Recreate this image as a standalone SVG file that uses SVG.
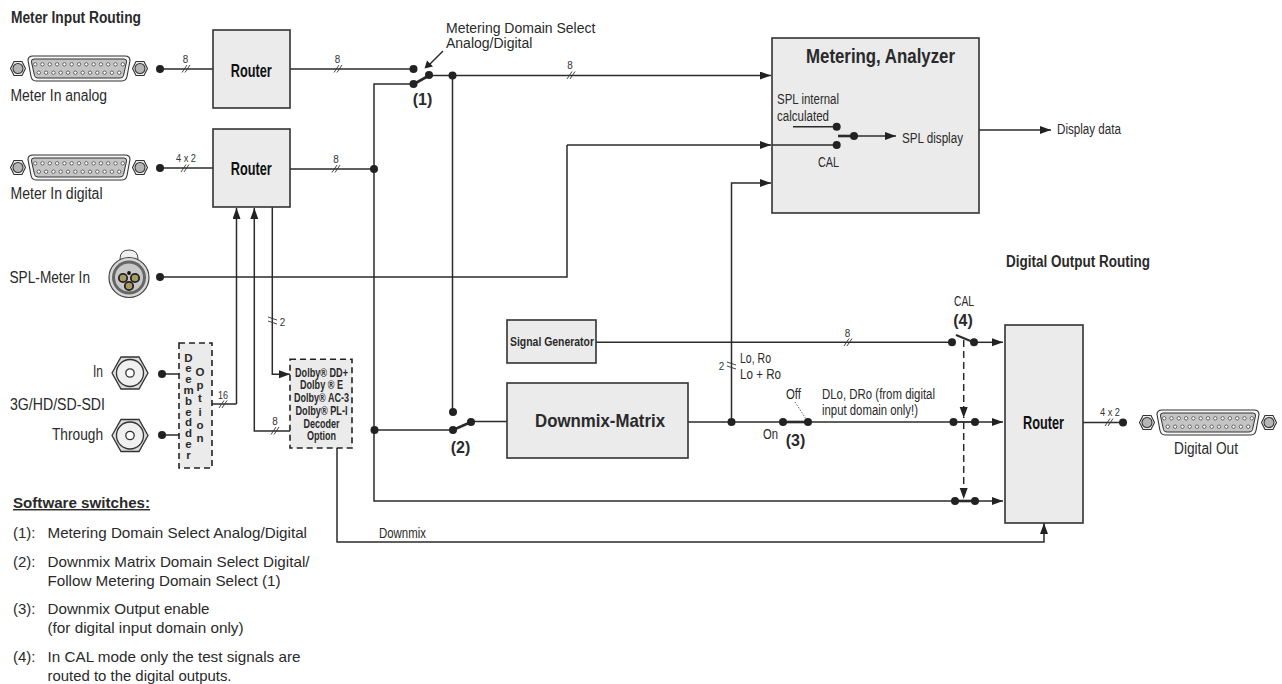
<svg xmlns="http://www.w3.org/2000/svg" xmlns:xlink="http://www.w3.org/1999/xlink" width="1282" height="684" viewBox="0 0 1282 684">
<style>
text{font-family:"Liberation Sans",Arial,sans-serif;fill:#2a2a2a;font-size:16px}
.s{font-size:14px}
.sm{font-size:11.500px;fill:#333}
.nt{font-size:15px}
.b{font-weight:bold}
.h{font-weight:bold;font-size:16px}
.r{font-weight:bold;font-size:18px;fill:#111}
.dd{font-weight:bold;font-size:12px}
.db{font-weight:bold;font-size:11.500px}
.box{fill:#ebebeb;stroke:#333;stroke-width:1.6}
.dash{fill:#ebebeb;stroke:#222;stroke-width:1.6;stroke-dasharray:6 4}
.l{fill:none;stroke:#2b2b2b;stroke-width:1.5}
.a{fill:none;stroke:#2b2b2b;stroke-width:1.5;marker-end:url(#ah)}
.th{fill:none;stroke:#2b2b2b;stroke-width:2.6}
.t{fill:none;stroke:#333;stroke-width:.9}
.d{fill:#222}
.dl{fill:none;stroke:#2b2b2b;stroke-width:1.5;stroke-dasharray:7 4;marker-end:url(#ah)}
.dot{fill:none;stroke:#444;stroke-width:.8;stroke-dasharray:1.500 1.500}
</style>
<defs>
<marker id="ah" markerUnits="userSpaceOnUse" markerWidth="12" markerHeight="10" refX="11" refY="4" orient="auto"><path d="M0 0L11 4L0 8z" fill="#222"/></marker>
<g id="nut"><path d="M-7.500 0L-4 -7H4L7.500 0L4 7H-4z" fill="#eee" stroke="#333" stroke-width="1.100"/><circle r="5" fill="#b5b5b5" stroke="#333" stroke-width="1.100"/></g>
<g id="pin"><circle r="1.700" fill="#fff" stroke="#333" stroke-width=".7"/></g>
<g id="dsub">
<use xlink:href="#nut" x="-61"/><use xlink:href="#nut" x="61"/>
<path d="M-46 -12.500H46Q51 -12.500 51 -8L48 8Q47 12.500 43 12.500H-43Q-47 12.500 -48 8L-51 -8Q-51 -12.500 -46 -12.500z" fill="#f6f6f6" stroke="#333" stroke-width="1.100"/>
<path d="M-45 -9.500H45Q48 -9.500 47.500 -6.500L44.500 7Q44 9.500 41 9.500H-41Q-44 9.500 -44.500 7L-47.500 -6.500Q-48 -9.500 -45 -9.500z" fill="#c4c4c4" stroke="#333" stroke-width="1"/>
<use xlink:href="#pin" x="-43.800" y="-4.200"/><use xlink:href="#pin" x="-36.500" y="-4.200"/><use xlink:href="#pin" x="-29.200" y="-4.200"/><use xlink:href="#pin" x="-21.900" y="-4.200"/><use xlink:href="#pin" x="-14.600" y="-4.200"/><use xlink:href="#pin" x="-7.300" y="-4.200"/><use xlink:href="#pin" x="0" y="-4.200"/><use xlink:href="#pin" x="7.300" y="-4.200"/><use xlink:href="#pin" x="14.600" y="-4.200"/><use xlink:href="#pin" x="21.900" y="-4.200"/><use xlink:href="#pin" x="29.200" y="-4.200"/><use xlink:href="#pin" x="36.500" y="-4.200"/><use xlink:href="#pin" x="43.800" y="-4.200"/>
<use xlink:href="#pin" x="-40.200" y="4.200"/><use xlink:href="#pin" x="-32.900" y="4.200"/><use xlink:href="#pin" x="-25.600" y="4.200"/><use xlink:href="#pin" x="-18.300" y="4.200"/><use xlink:href="#pin" x="-11" y="4.200"/><use xlink:href="#pin" x="-3.700" y="4.200"/><use xlink:href="#pin" x="3.700" y="4.200"/><use xlink:href="#pin" x="11" y="4.200"/><use xlink:href="#pin" x="18.300" y="4.200"/><use xlink:href="#pin" x="25.600" y="4.200"/><use xlink:href="#pin" x="32.900" y="4.200"/><use xlink:href="#pin" x="40.200" y="4.200"/>
</g>
<g id="bnc"><path d="M-18 0L-9 -16H9L18 0L9 16H-9z" fill="#dcdcdc" stroke="#333" stroke-width="1.300"/><circle r="13.500" fill="#f0f0f0" stroke="#333" stroke-width="1.300"/><circle r="4.200" fill="#fff" stroke="#333" stroke-width="1.300"/></g>
</defs>
<rect width="1282" height="684" fill="#fff"/>

<g id="connectors">
<path class="l" d="M160 69H213M290 69H413M429 75.500H452"/>
<path class="l" d="M160 168H213"/>
<path class="a" d="M452 75.500H771"/>
<path class="l" d="M290 169H374"/>
<path class="l" d="M413 84H374V501H955"/>
<path class="l" d="M374 430H453"/>
<path class="l" d="M452.500 75V412"/>
<path class="th" d="M414 84L429 75.500"/>
<path class="th" d="M453 430L471 422"/>
<path class="l" d="M471 421.500H507"/>
<path class="l" d="M160 277H567V145"/>
<path class="a" d="M567 145H771"/>
<path class="a" d="M979 130H1051"/>
<path class="l" d="M688 422H783"/>
<path class="a" d="M731.500 422V183H771"/>
<path class="th" d="M783 422H808"/>
<path class="l" d="M808 422H954"/>
<path class="a" d="M975 422H1003"/>
<path class="l" d="M596 342.300H952"/>
<path class="th" d="M956 335L973 342" style="stroke-width:2"/>
<path class="a" d="M974 342.300H1003"/>
<path class="a" d="M975 501H1003"/>
<path class="th" d="M955 501H975"/>
<path class="th" d="M954 422H975" style="stroke-width:1.800"/>
<path class="dl" d="M963.700 340V418"/>
<path class="dl" d="M963.700 422V499"/>
<path class="l" d="M1083 422.500H1123"/>
<path class="l" d="M162 374H179M162 435H179"/>
<path class="l" d="M212 404H236.500"/>
<path class="a" d="M236.500 404V208"/>
<path class="a" d="M290 431H254.300V208"/>
<path class="a" d="M272.300 207V374.300H290"/>
<path class="a" d="M337 448V542H1044V523"/>
<path class="l" d="M443 51L428 66"/>
<path d="M424.500 68.500L427 60.500L433 66.500z" class="d"/>
<path class="dot" d="M795 402L806 419"/>
<path class="t" d="M182 72.500L187 65M185 72.500L190 65M181 172L186 164.500M184 172L189 164.500M334 72.500L339 65M337 72.500L342 65M332 172.500L337 165M335 172.500L340 165M567 79L572 71.500M570 79L575 71.500M844 346L849 338.500M847 346L852 338.500M219 408L224 400.500M222 408L227 400.500M271 434.500L276 427M274 434.500L279 427M268 317L277 320M268 321L277 324M727 362L736 365M727 366L736 369M1105 426L1110 418.500M1108 426L1113 418.500"/>
</g>

<g id="router-1"><rect class="box" x="213" y="30" width="77" height="78"/><text class="r" x="251.300" y="76.500" text-anchor="middle" textLength="41" lengthAdjust="spacingAndGlyphs">Router</text></g>
<g id="router-2"><rect class="box" x="213" y="129" width="77" height="78"/><text class="r" x="251.300" y="175" text-anchor="middle" textLength="41" lengthAdjust="spacingAndGlyphs">Router</text></g>
<g id="router-3"><rect class="box" x="1005" y="325" width="78" height="198"/><text class="r" x="1043.500" y="429" text-anchor="middle" textLength="41" lengthAdjust="spacingAndGlyphs">Router</text></g>
<g id="metering"><rect class="box" x="772" y="38" width="207" height="175"/>
<path class="l" d="M772 145H836"/>
<text class="b" x="880.500" y="63" text-anchor="middle" textLength="149" lengthAdjust="spacingAndGlyphs" style="font-size:20px">Metering, Analyzer</text>
<text x="777" y="104" class="s" textLength="62" lengthAdjust="spacingAndGlyphs">SPL internal</text>
<text x="777" y="120.500" class="s" textLength="52" lengthAdjust="spacingAndGlyphs">calculated</text>
<text x="902" y="143" class="s" textLength="61" lengthAdjust="spacingAndGlyphs">SPL display</text>
<text x="818" y="167" class="s" textLength="21" lengthAdjust="spacingAndGlyphs">CAL</text>
<path class="l" d="M793 126.700H836"/><path class="th" d="M838 136H854"/><path class="a" d="M854 136H896"/>
<circle class="d" cx="836.700" cy="126.700" r="4"/><circle class="d" cx="836.700" cy="145" r="4"/><circle class="d" cx="854" cy="136" r="4"/>
</g>
<g id="signal-generator"><rect class="box" x="507" y="320" width="89" height="43"/><text class="b" x="552" y="346" text-anchor="middle" textLength="84" lengthAdjust="spacingAndGlyphs" style="font-size:13px">Signal Generator</text></g>
<g id="downmix-matrix"><rect class="box" x="507" y="383" width="181" height="75"/><text class="b" x="600" y="427" text-anchor="middle" textLength="130" lengthAdjust="spacingAndGlyphs" style="font-size:19px">Downmix-Matrix</text></g>
<g id="deembedder"><rect class="dash" x="179" y="343" width="33" height="125"/>
<text class="db" text-anchor="middle" x="188.500" y="361.500">D</text><text class="db" text-anchor="middle" x="188.500" y="372.300">e</text><text class="db" text-anchor="middle" x="188.500" y="383.100">e</text><text class="db" text-anchor="middle" x="188.500" y="393.900">m</text><text class="db" text-anchor="middle" x="188.500" y="404.700">b</text><text class="db" text-anchor="middle" x="188.500" y="415.500">e</text><text class="db" text-anchor="middle" x="188.500" y="426.300">d</text><text class="db" text-anchor="middle" x="188.500" y="437.100">d</text><text class="db" text-anchor="middle" x="188.500" y="447.900">e</text><text class="db" text-anchor="middle" x="188.500" y="458.700">r</text>
<text class="db" text-anchor="middle" x="200" y="376">O</text><text class="db" text-anchor="middle" x="200" y="389.200">p</text><text class="db" text-anchor="middle" x="200" y="402.400">t</text><text class="db" text-anchor="middle" x="200" y="415.600">i</text><text class="db" text-anchor="middle" x="200" y="428.800">o</text><text class="db" text-anchor="middle" x="200" y="442">n</text>
</g>
<g id="decoder"><rect class="dash" x="290" y="359.300" width="62" height="88.700"/>
<text class="dd" x="321.500" y="376.500" text-anchor="middle" textLength="53" lengthAdjust="spacingAndGlyphs">Dolby® DD+</text>
<text class="dd" x="321.500" y="389" text-anchor="middle" textLength="43" lengthAdjust="spacingAndGlyphs">Dolby ® E</text>
<text class="dd" x="321.500" y="402" text-anchor="middle" textLength="55" lengthAdjust="spacingAndGlyphs">Dolby® AC-3</text>
<text class="dd" x="321.500" y="415" text-anchor="middle" textLength="52" lengthAdjust="spacingAndGlyphs">Dolby® PL-I</text>
<text class="dd" x="321.500" y="427.700" text-anchor="middle" textLength="36" lengthAdjust="spacingAndGlyphs">Decoder</text>
<text class="dd" x="321.500" y="440" text-anchor="middle" textLength="29" lengthAdjust="spacingAndGlyphs">Option</text>
</g>

<g id="meter-in-analog"><use xlink:href="#dsub" x="79" y="68.500"/><text x="10.500" y="101" textLength="96.500" lengthAdjust="spacingAndGlyphs">Meter In analog</text></g>
<g id="meter-in-digital"><use xlink:href="#dsub" x="79" y="167.500"/><text x="10.500" y="199" textLength="92" lengthAdjust="spacingAndGlyphs">Meter In digital</text></g>
<g id="digital-out"><use xlink:href="#dsub" x="1208" y="422.500"/><text x="1174" y="454" textLength="64" lengthAdjust="spacingAndGlyphs">Digital Out</text></g>
<g id="spl-meter-in">
<path d="M120 259Q120 250 129 250Q138 250 138 259Q138 261 135 261H123Q120 261 120 259z" fill="#efefef" stroke="#444"/>
<circle cx="129" cy="277.500" r="20" fill="#d8d8d8" stroke="#444" stroke-width="1.200"/>
<circle cx="129" cy="277.500" r="17" fill="#666"/>
<circle cx="129" cy="277.500" r="14" fill="#c8c8c8"/>
<circle cx="129" cy="273" r="1.900" fill="#111"/>
<circle cx="123" cy="278" r="4.200" fill="#a89a60" stroke="#222" stroke-width="1.800"/>
<circle cx="135" cy="278" r="4.200" fill="#a89a60" stroke="#222" stroke-width="1.800"/>
<circle cx="129" cy="286" r="4.200" fill="#a89a60" stroke="#222" stroke-width="1.800"/>
<text x="9.500" y="283" textLength="80.500" lengthAdjust="spacingAndGlyphs">SPL-Meter In</text>
</g>
<g id="sdi-in"><use xlink:href="#bnc" x="130" y="373"/><text x="93" y="377" textLength="10" lengthAdjust="spacingAndGlyphs">In</text></g>
<g id="sdi-through"><use xlink:href="#bnc" x="130" y="435.500"/><text x="52" y="440" textLength="51" lengthAdjust="spacingAndGlyphs">Through</text></g>

<g id="dots">
<circle class="d" cx="160" cy="69" r="4"/><circle class="d" cx="160" cy="168" r="4"/><circle class="d" cx="160" cy="277" r="4"/>
<circle class="d" cx="162" cy="374" r="4"/><circle class="d" cx="162" cy="435" r="4"/>
<circle class="d" cx="413.500" cy="69" r="4"/><circle class="d" cx="413.500" cy="84" r="4"/><circle class="d" cx="429" cy="75" r="4"/><circle class="d" cx="452.500" cy="75.500" r="4"/>
<circle class="d" cx="374" cy="169" r="4"/><circle class="d" cx="374.500" cy="430" r="4"/>
<circle class="d" cx="453" cy="412" r="4"/><circle class="d" cx="453" cy="430" r="4"/><circle class="d" cx="471" cy="422" r="4"/>
<circle class="d" cx="731.500" cy="422" r="4"/><circle class="d" cx="783" cy="422" r="4"/><circle class="d" cx="808" cy="422" r="4"/>
<circle class="d" cx="952" cy="342.300" r="4"/><circle class="d" cx="974" cy="342.300" r="4"/>
<circle class="d" cx="953.500" cy="422" r="4"/><circle class="d" cx="975" cy="422" r="4"/>
<circle class="d" cx="955" cy="501" r="4"/><circle class="d" cx="975" cy="501" r="4"/>
<circle class="d" cx="1123" cy="422.500" r="4"/>
</g>

<g id="labels">
<text class="h" x="11" y="23" textLength="130" lengthAdjust="spacingAndGlyphs">Meter Input Routing</text>
<text class="h" x="1006" y="267" textLength="144" lengthAdjust="spacingAndGlyphs">Digital Output Routing</text>
<text x="446" y="33" class="s">Metering Domain Select</text>
<text x="446" y="48" class="s">Analog/Digital</text>
<text class="b" x="422.500" y="105" text-anchor="middle">(1)</text>
<text class="b" x="460.500" y="453" text-anchor="middle">(2)</text>
<text class="b" x="795.500" y="446" text-anchor="middle">(3)</text>
<text class="b" x="963" y="326" text-anchor="middle">(4)</text>
<text x="954" y="306" class="s" textLength="20" lengthAdjust="spacingAndGlyphs">CAL</text>
<text x="786" y="399" class="s" textLength="15" lengthAdjust="spacingAndGlyphs">Off</text>
<text x="763" y="439" class="s" textLength="15" lengthAdjust="spacingAndGlyphs">On</text>
<text x="822" y="399" class="s" textLength="113" lengthAdjust="spacingAndGlyphs">DLo, DRo (from digital</text>
<text x="822" y="415" class="s" textLength="96" lengthAdjust="spacingAndGlyphs">input domain only!)</text>
<text x="740" y="363" class="s" textLength="31" lengthAdjust="spacingAndGlyphs">Lo, Ro</text>
<text x="740" y="379" class="s" textLength="41" lengthAdjust="spacingAndGlyphs">Lo + Ro</text>
<text x="1057" y="134" class="s" textLength="64" lengthAdjust="spacingAndGlyphs">Display data</text>
<text x="379" y="538" class="s" textLength="47" lengthAdjust="spacingAndGlyphs">Downmix</text>
<text x="10" y="410" textLength="95" lengthAdjust="spacingAndGlyphs">3G/HD/SD-SDI</text>
<text class="sm" x="185.500" y="62.700" text-anchor="middle" textLength="5.500" lengthAdjust="spacingAndGlyphs">8</text>
<text class="sm" x="186" y="162" text-anchor="middle" textLength="20" lengthAdjust="spacingAndGlyphs">4 x 2</text>
<text class="sm" x="337.500" y="63" text-anchor="middle" textLength="5.500" lengthAdjust="spacingAndGlyphs">8</text>
<text class="sm" x="336" y="163" text-anchor="middle" textLength="5.500" lengthAdjust="spacingAndGlyphs">8</text>
<text class="sm" x="570" y="69" text-anchor="middle" textLength="5.500" lengthAdjust="spacingAndGlyphs">8</text>
<text class="sm" x="847.500" y="337" text-anchor="middle" textLength="5.500" lengthAdjust="spacingAndGlyphs">8</text>
<text class="sm" x="223" y="399" text-anchor="middle" textLength="10" lengthAdjust="spacingAndGlyphs">16</text>
<text class="sm" x="275" y="424.500" text-anchor="middle" textLength="5.500" lengthAdjust="spacingAndGlyphs">8</text>
<text class="sm" x="282.500" y="326" text-anchor="middle" textLength="5.500" lengthAdjust="spacingAndGlyphs">2</text>
<text class="sm" x="721.500" y="370" text-anchor="middle" textLength="5.500" lengthAdjust="spacingAndGlyphs">2</text>
<text class="sm" x="1110" y="415.500" text-anchor="middle" textLength="20" lengthAdjust="spacingAndGlyphs">4 x 2</text>
</g>

<g id="notes">
<text class="b" x="13" y="508" style="font-size:14.500px;text-decoration:underline" textLength="137" lengthAdjust="spacingAndGlyphs">Software switches:</text>
<text x="13" y="538" class="nt">(1):</text><text x="47.500" y="538" class="nt" textLength="259.500" lengthAdjust="spacingAndGlyphs">Metering Domain Select Analog/Digital</text>
<text x="13" y="566.500" class="nt">(2):</text><text x="47.500" y="566.500" class="nt" textLength="262" lengthAdjust="spacingAndGlyphs">Downmix Matrix Domain Select Digital/</text>
<text x="47.500" y="586" class="nt" textLength="233" lengthAdjust="spacingAndGlyphs">Follow Metering Domain Select (1)</text>
<text x="13" y="614" class="nt">(3):</text><text x="47.500" y="614" class="nt" textLength="162" lengthAdjust="spacingAndGlyphs">Downmix Output enable</text>
<text x="47.500" y="633" class="nt" textLength="196" lengthAdjust="spacingAndGlyphs">(for digital input domain only)</text>
<text x="13" y="662" class="nt">(4):</text><text x="47.500" y="662" class="nt" textLength="253" lengthAdjust="spacingAndGlyphs">In CAL mode only the test signals are</text>
<text x="47.500" y="681" class="nt" textLength="184" lengthAdjust="spacingAndGlyphs">routed to the digital outputs.</text>
</g>
</svg>
